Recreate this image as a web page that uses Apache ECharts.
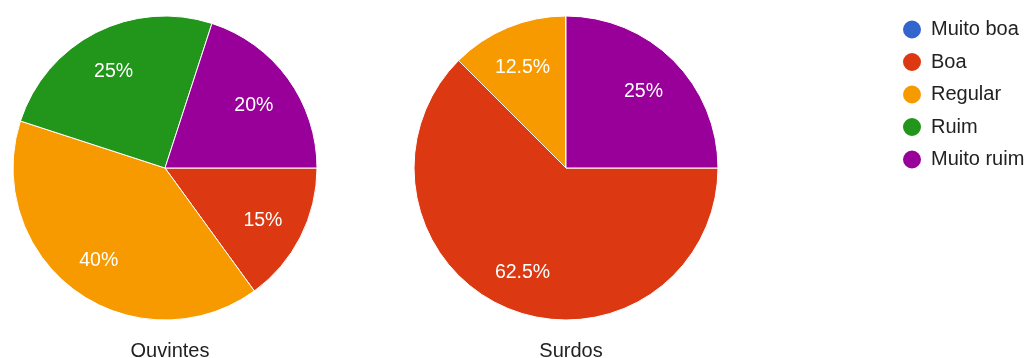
<!DOCTYPE html>
<html>
<head>
<meta charset="utf-8">
<style>
  html, body { margin: 0; padding: 0; background: #fff; }
  #chart { width: 1026px; height: 358px; }
</style>
<script src="https://cdn.jsdelivr.net/npm/echarts@6/dist/echarts.min.js"></script>
</head>
<body>
<div id="chart"></div>
<script>
// Answer categories (legend order)
const categories = ['Muito boa', 'Boa', 'Regular', 'Ruim', 'Muito ruim'];
// Percent of answers per group
const ouvintes = [0, 15, 40, 25, 20];
const surdos = [0, 62.5, 12.5, 0, 25];
const groupNames = ['Ouvintes', 'Surdos'];
const palette = ['#3366cc', '#dc3912', '#f79a00', '#21961b', '#990099'];

const FONT = '"Liberation Sans", Arial, Helvetica, sans-serif';
const R = 152;
const centers = [[165, 168], [566, 168]];

function toItems(values) {
  return categories.map((name, i) => ({ name, value: values[i] }));
}

function slicesSeries(values, center) {
  return {
    type: 'pie',
    center: center,
    radius: [0, R],
    startAngle: 0,
    clockwise: true,
    silent: true,
    avoidLabelOverlap: false,
    itemStyle: { borderColor: '#ffffff', borderWidth: 1 },
    label: { show: false },
    labelLine: { show: false },
    data: toItems(values)
  };
}

// Transparent ring on top of each pie: its "inside" labels sit at
// the middle of the ring, i.e. toward the outer part of each slice.
function labelSeries(values, center) {
  return {
    type: 'pie',
    center: center,
    radius: [64, R],
    startAngle: 0,
    clockwise: true,
    silent: true,
    avoidLabelOverlap: false,
    itemStyle: { color: 'rgba(0,0,0,0)', borderWidth: 0 },
    label: {
      show: true,
      position: 'inside',
      color: '#ffffff',
      fontFamily: FONT,
      fontSize: 19.5,
      offset: [-1, 2.5],
      formatter: p => (p.value > 0 ? p.percent + '%' : '')
    },
    labelLine: { show: false },
    data: toItems(values)
  };
}

const chart = echarts.init(document.getElementById('chart'), null, { renderer: 'canvas' });
chart.setOption({
  animation: false,
  color: palette,
  title: groupNames.map((name, i) => ({
    text: name,
    left: centers[i][0],
    top: 336,
    textAlign: 'center',
    textStyle: { fontFamily: FONT, fontSize: 20, fontWeight: 'normal', color: '#222222' }
  })),
  legend: {
    data: categories,
    orient: 'vertical',
    left: 901,
    top: 18.5,
    padding: 0,
    icon: 'circle',
    itemWidth: 28,
    itemHeight: 20,
    itemGap: 10.5,
    selectedMode: false,
    textStyle: { fontFamily: FONT, fontSize: 20, color: '#222222', lineHeight: 20 }
  },
  series: [
    slicesSeries(ouvintes, centers[0]),
    slicesSeries(surdos, centers[1]),
    labelSeries(ouvintes, centers[0]),
    labelSeries(surdos, centers[1])
  ]
});
</script>
</body>
</html>
